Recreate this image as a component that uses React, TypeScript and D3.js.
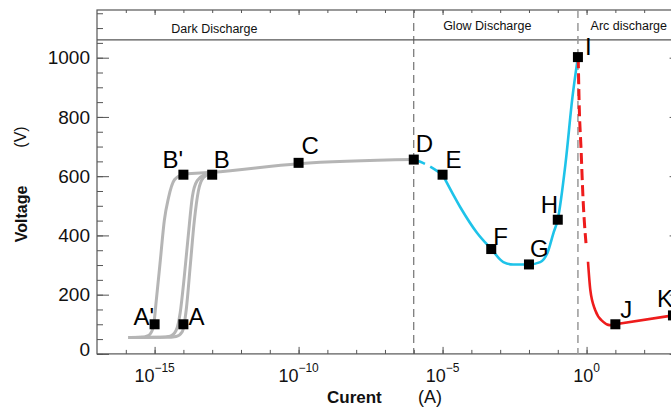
import React, { useEffect, useRef } from 'react';
import * as d3 from 'd3';

// current axis in decades (log10 A), voltage axis in V
const decadeTicks = d3.range(-16, 4);
const majorDecades = [-15, -10, -5, 0];
const voltTicks = d3.range(0, 1151, 50);
const voltMajor = [0, 200, 400, 600, 800, 1000];

// region boundaries (log10 A) and band
const regionBounds = [-6, -0.3];
const bandTop = 1060;
const regionNames = ['Dark Discharge', 'Glow Discharge', 'Arc discharge'];
const regionLabelExp = [-14.42, -4.98, 0.14];

// marked points
const pointNames = ["A'", 'A', "B'", 'B', 'C', 'D', 'E', 'F', 'G', 'H', 'I', 'J', 'K'];
const pointExp = [-15, -14, -14, -13, -10, -6, -5, -3.31, -2, -1, -0.3, 1, 3];
const pointVolt = [100, 100, 605, 605, 645, 656, 605, 354, 302, 453, 1002, 100, 130];

// dark discharge (gray), [log10 I, V]
const darkCurve1: [number, number][] = [
  [-15.91, 55], [-15.5, 56], [-15.22, 62], [-15.05, 88], [-14.94, 182], [-14.8, 317],
  [-14.66, 452], [-14.52, 526], [-14.31, 588], [-14.0, 607],
];
const darkCurve2: [number, number][] = [
  [-15.91, 55], [-14.8, 56], [-14.46, 60], [-14.25, 80], [-14.11, 140], [-13.97, 260],
  [-13.83, 400], [-13.69, 530], [-13.52, 585], [-13.24, 606], [-13.0, 612],
];
const darkCurve3: [number, number][] = [
  [-15.91, 55], [-14.62, 56], [-14.25, 59], [-14.04, 75], [-13.9, 150], [-13.76, 300],
  [-13.62, 450], [-13.48, 550], [-13.31, 595], [-13.0, 612],
];
const darkMain: [number, number][] = [[-14.0, 607], [-13.0, 613], [-10.0, 642], [-6.0, 656]];

// glow discharge (cyan)
const glowDashed: [number, number][] = [[-6.0, 656], [-5.6, 641], [-5.0, 605]];
const glowCurve: [number, number][] = [
  [-5.0, 605], [-4.39, 496], [-3.8, 408], [-3.31, 354], [-2.89, 310], [-2.55, 302],
  [-2.0, 302], [-1.61, 310], [-1.36, 341], [-1.15, 408], [-1.0, 454], [-0.73, 644],
  [-0.49, 867], [-0.3, 1002],
];

// arc discharge (red)
const arcDashed: [number, number][] = [
  [-0.29, 1002], [-0.26, 857], [-0.19, 688], [-0.12, 519], [-0.02, 374],
];
const arcCurve: [number, number][] = [
  [0.05, 311], [0.13, 216], [0.3, 148], [0.58, 108], [0.8, 97], [1.0, 100], [3.0, 130],
];

// label offsets from each marker (px)
const labelOffsets = [
  [-21, 1], [5, 1], [-21, -7], [1.5, -7], [3, -9], [2, -8], [3, -7],
  [2, -4], [1, -7], [-17, -7], [7, -2], [5, -6], [-16, -8],
];

export default function App() {
  const ref = useRef<SVGSVGElement>(null);

  useEffect(() => {
    const svg = d3.select(ref.current);
    svg.selectAll('*').remove();

    const font = 'Liberation Sans, Arial, Helvetica, sans-serif';
    const axisColor = '#555';
    const x = d3.scaleLog().domain([1e-17, 10 ** 3.3]).range([97, 681.6]);
    const y = d3.scaleLinear().domain([0, 1161]).range([353.9, 10]);
    const px = (e: number) => x(10 ** e);
    const [x0, x1] = x.range();
    const [y0, y1] = y.range();

    const ticks = (g: any) => {
      g.select('.domain').remove();
      g.selectAll('text').remove();
      g.selectAll('line').attr('stroke', axisColor);
    };
    const blank = () => '';

    // bottom / top ticks
    svg.append('g').attr('transform', `translate(0,${y0})`)
      .call(d3.axisBottom(x).tickValues(decadeTicks.map(e => 10 ** e)).tickSize(-4).tickFormat(blank)).call(ticks);
    svg.append('g').attr('transform', `translate(0,${y0})`)
      .call(d3.axisBottom(x).tickValues(majorDecades.map(e => 10 ** e)).tickSize(-7).tickFormat(blank)).call(ticks);
    svg.append('g').attr('transform', `translate(0,${y1})`)
      .call(d3.axisTop(x).tickValues(decadeTicks.map(e => 10 ** e)).tickSize(-3).tickFormat(blank)).call(ticks);
    svg.append('g').attr('transform', `translate(0,${y1})`)
      .call(d3.axisTop(x).tickValues(majorDecades.map(e => 10 ** e)).tickSize(-5).tickFormat(blank)).call(ticks);

    // left / right ticks
    svg.append('g').attr('transform', `translate(${x0},0)`)
      .call(d3.axisLeft(y).tickValues(voltTicks).tickSize(-6).tickFormat(blank)).call(ticks);
    svg.append('g').attr('transform', `translate(${x0},0)`)
      .call(d3.axisLeft(y).tickValues(voltMajor).tickSize(-12).tickFormat(blank)).call(ticks);
    svg.append('g').attr('transform', `translate(${x1},0)`)
      .call(d3.axisRight(y).tickValues(voltTicks).tickSize(-6).tickFormat(blank)).call(ticks);
    svg.append('g').attr('transform', `translate(${x1},0)`)
      .call(d3.axisRight(y).tickValues(voltMajor).tickSize(-12).tickFormat(blank)).call(ticks);

    // frame and band line
    svg.append('rect')
      .attr('x', x0).attr('y', y1).attr('width', x1 - x0).attr('height', y0 - y1)
      .attr('fill', 'none').attr('stroke', axisColor).attr('stroke-width', 1.2);
    svg.append('line')
      .attr('x1', x0).attr('x2', x1).attr('y1', y(bandTop)).attr('y2', y(bandTop))
      .attr('stroke', axisColor).attr('stroke-width', 1.2);

    // region boundaries
    svg.selectAll('.bound').data(regionBounds).join('line')
      .attr('x1', d => px(d)).attr('x2', d => px(d)).attr('y1', y1).attr('y2', y0)
      .attr('stroke', (d, i) => (i === 0 ? '#555' : '#999'))
      .attr('stroke-width', (d, i) => (i === 0 ? 1 : 1.5))
      .attr('stroke-dasharray', '8,5');

    // y tick labels
    svg.selectAll('.ylab').data(voltMajor).join('text')
      .attr('x', x0 - 7).attr('y', d => Math.min(y(d), y0 - 5)).attr('dy', '0.35em')
      .attr('text-anchor', 'end').attr('font-family', font).attr('font-size', 19)
      .attr('fill', '#111').text(d => d);

    // x tick labels with superscripts
    const xl = svg.selectAll('.xlab').data(majorDecades).join('text')
      .attr('x', d => px(d)).attr('y', 382).attr('text-anchor', 'middle')
      .attr('font-family', font).attr('font-size', 18).attr('fill', '#111');
    xl.append('tspan').text('10');
    xl.append('tspan').attr('dy', -10).attr('font-size', 12)
      .text(d => (d < 0 ? '\u2212' + Math.abs(d) : String(d)));

    // axis titles
    svg.append('text').attr('x', 327).attr('y', 403).attr('font-family', font)
      .attr('font-size', 17).attr('font-weight', 'bold').attr('fill', '#111').text('Curent');
    svg.append('text').attr('x', 418).attr('y', 403).attr('font-family', font)
      .attr('font-size', 18).attr('fill', '#111').text('(A)');
    svg.append('text').attr('transform', 'translate(27,214) rotate(-90)').attr('text-anchor', 'middle')
      .attr('font-family', font).attr('font-size', 16).attr('font-weight', 'bold').attr('fill', '#111')
      .text('Voltage');
    svg.append('text').attr('transform', 'translate(26,137) rotate(-90)').attr('text-anchor', 'middle')
      .attr('font-family', font).attr('font-size', 16).attr('fill', '#111').text('(V)');

    // region names
    svg.selectAll('.rname').data(regionNames).join('text')
      .attr('x', (d, i) => px(regionLabelExp[i]))
      .attr('y', (d, i) => (i === 0 ? 33 : 30))
      .attr('text-anchor', 'start')
      .attr('font-family', font).attr('font-size', 12.5).attr('fill', '#111').text(d => d);

    const line = d3.line<[number, number]>()
      .x(d => px(d[0])).y(d => y(d[1])).curve(d3.curveMonotoneX);

    const gray = '#b5b5b5';
    [darkCurve1, darkCurve2, darkCurve3, darkMain].forEach(c => {
      svg.append('path').datum(c).attr('d', line).attr('fill', 'none')
        .attr('stroke', gray).attr('stroke-width', 3);
    });

    const cyan = '#1ec3e9';
    svg.append('path').datum(glowDashed).attr('d', line).attr('fill', 'none')
      .attr('stroke', cyan).attr('stroke-width', 2.6).attr('stroke-dasharray', '12,6');
    svg.append('path').datum(glowCurve).attr('d', line).attr('fill', 'none')
      .attr('stroke', cyan).attr('stroke-width', 2.6);

    const red = '#ee1c1c';
    svg.append('path').datum(arcDashed).attr('d', line).attr('fill', 'none')
      .attr('stroke', red).attr('stroke-width', 3).attr('stroke-dasharray', '11,5');
    svg.append('path').datum(arcCurve).attr('d', line).attr('fill', 'none')
      .attr('stroke', red).attr('stroke-width', 2.6);

    // markers
    svg.selectAll('.pt').data(pointNames).join('rect')
      .attr('x', (d, i) => px(pointExp[i]) - 5).attr('y', (d, i) => y(pointVolt[i]) - 5)
      .attr('width', 10).attr('height', 10).attr('fill', '#000');

    svg.selectAll('.ptlab').data(pointNames).join('text')
      .attr('x', (d, i) => px(pointExp[i]) + labelOffsets[i][0])
      .attr('y', (d, i) => y(pointVolt[i]) + labelOffsets[i][1])
      .attr('font-family', font).attr('font-size', 24).attr('fill', '#000')
      .text(d => d);
  }, []);

  return (
    <svg ref={ref} width={671} height={407}
      style={{ position: 'absolute', left: 0, top: 0, background: '#fff' }} />
  );
}
